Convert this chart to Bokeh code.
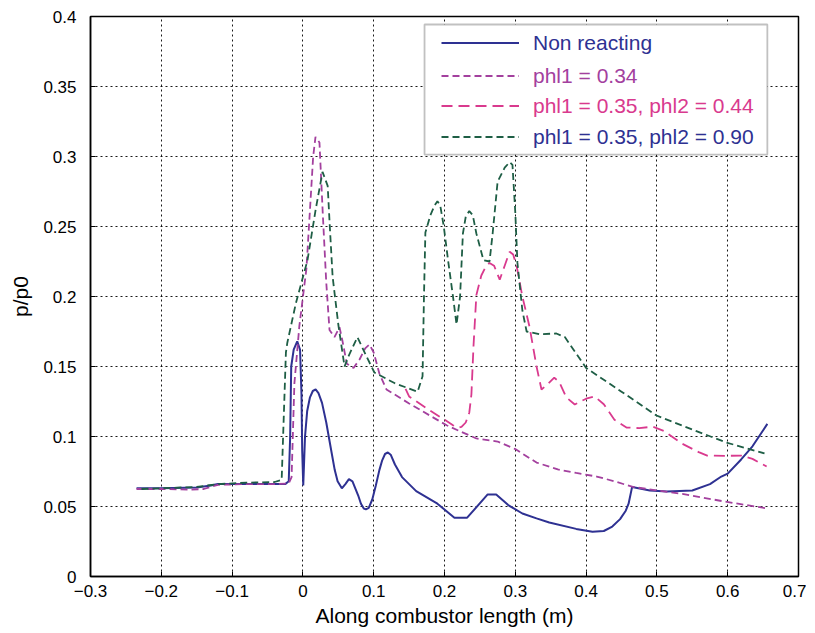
from bokeh.plotting import figure
from bokeh.models import FixedTicker, Legend, LegendItem, BoxAnnotation
from bokeh.embed import file_html
from bokeh.resources import INLINE

# ---------------- data ----------------
nr_x = [-0.235, -0.20, -0.15, -0.13, -0.12, -0.08, -0.04, -0.025, -0.02, -0.018, -0.0165, -0.013,
        -0.008, -0.004, -0.002, -0.001, 0.0005, 0.003, 0.006, 0.010, 0.014, 0.018, 0.022, 0.027,
        0.033, 0.040, 0.045, 0.049, 0.055, 0.060, 0.065, 0.070, 0.078, 0.082, 0.086, 0.089, 0.093,
        0.098, 0.103, 0.108, 0.112, 0.116, 0.120, 0.124, 0.13, 0.14, 0.16, 0.19, 0.214, 0.232,
        0.261, 0.273, 0.29, 0.31, 0.33, 0.348, 0.386, 0.409, 0.425, 0.437, 0.448, 0.456, 0.460,
        0.465, 0.49, 0.514, 0.55, 0.575, 0.591, 0.60, 0.619, 0.635, 0.656]
nr_y = [0.063, 0.063, 0.0635, 0.065, 0.066, 0.066, 0.066, 0.066, 0.068, 0.10, 0.15, 0.162,
        0.168, 0.162, 0.13, 0.09, 0.065, 0.10, 0.118, 0.128, 0.1325, 0.1336, 0.131, 0.124,
        0.110, 0.09, 0.076, 0.068, 0.063, 0.066, 0.0695, 0.068, 0.058, 0.052, 0.0485, 0.048, 0.049,
        0.055, 0.065, 0.076, 0.083, 0.0875, 0.0886, 0.087, 0.08, 0.071, 0.061, 0.052, 0.042, 0.042,
        0.0586, 0.0586, 0.051, 0.045, 0.0415, 0.0386, 0.034, 0.032, 0.0325, 0.0357, 0.041, 0.047, 0.052,
        0.064, 0.0615, 0.0607, 0.0614, 0.066, 0.0714, 0.0735, 0.0836, 0.093, 0.109]

p34_x = [-0.235, -0.20, -0.16, -0.14, -0.12, -0.08, -0.04, -0.02, -0.016, -0.012, -0.005, 0.005,
         0.0145, 0.0178, 0.0234, 0.028, 0.033, 0.0376, 0.0446, 0.0517, 0.056, 0.062, 0.0715, 0.080,
         0.088, 0.094, 0.100, 0.108, 0.118, 0.15, 0.203, 0.245, 0.275, 0.30, 0.33, 0.36, 0.386, 0.415,
         0.44, 0.466, 0.50, 0.536, 0.595, 0.656]
p34_y = [0.0625, 0.0625, 0.062, 0.0625, 0.0655, 0.066, 0.066, 0.0665, 0.071, 0.138, 0.179, 0.22,
         0.30, 0.314, 0.31, 0.26, 0.21, 0.176, 0.171, 0.178, 0.168, 0.152, 0.149, 0.155,
         0.163, 0.1657, 0.16, 0.145, 0.1336, 0.1236, 0.108, 0.0986, 0.0964, 0.091, 0.0814, 0.0765, 0.074, 0.0714,
         0.068, 0.064, 0.0615, 0.059, 0.0536, 0.0486]

p44_x = [0.145, 0.15, 0.175, 0.20, 0.212, 0.218, 0.224, 0.230, 0.235, 0.238, 0.241, 0.245, 0.252,
         0.258, 0.2636, 0.27, 0.278, 0.285, 0.292, 0.297, 0.302, 0.31, 0.32, 0.33, 0.337, 0.345,
         0.355, 0.362, 0.372, 0.384, 0.40, 0.412, 0.425, 0.44, 0.457, 0.475, 0.494, 0.51, 0.535,
         0.56, 0.571, 0.60, 0.619, 0.635, 0.655]
p44_y = [0.134, 0.1286, 0.12, 0.112, 0.108, 0.1064, 0.1068, 0.110, 0.117, 0.13, 0.165, 0.201, 0.215,
         0.221, 0.224, 0.222, 0.212, 0.222, 0.232, 0.230, 0.2214, 0.20, 0.1786, 0.15, 0.1336, 0.137,
         0.142, 0.139, 0.128, 0.1229, 0.127, 0.1286, 0.123, 0.112, 0.1064, 0.106, 0.107, 0.104, 0.095,
         0.0886, 0.0864, 0.0862, 0.0864, 0.084, 0.0786]

p90_x = [-0.228, -0.20, -0.15, -0.12, -0.08, -0.04, -0.03, -0.024, -0.022, -0.01, 0.0065, 0.018,
         0.0277, 0.035, 0.038, 0.042, 0.050, 0.0588, 0.065, 0.077, 0.090, 0.101, 0.13, 0.162, 0.169,
         0.171, 0.173, 0.18, 0.186, 0.19, 0.194, 0.199, 0.205, 0.212, 0.217, 0.222, 0.226, 0.230,
         0.235, 0.240, 0.245, 0.255, 0.2636, 0.268, 0.275, 0.285, 0.292, 0.296, 0.300, 0.303, 0.31,
         0.316, 0.334, 0.358, 0.37, 0.40, 0.45, 0.4995, 0.55, 0.598, 0.652]
p90_y = [0.0625, 0.063, 0.064, 0.066, 0.067, 0.0675, 0.069, 0.16, 0.167, 0.195, 0.226, 0.262,
         0.289, 0.279, 0.25, 0.214, 0.18, 0.15, 0.158, 0.171, 0.157, 0.1457, 0.138, 0.132, 0.143,
         0.20, 0.2457, 0.258, 0.265, 0.268, 0.265, 0.25, 0.226, 0.20, 0.18, 0.20, 0.245, 0.257,
         0.261, 0.258, 0.245, 0.226, 0.225, 0.245, 0.282, 0.292, 0.296, 0.294, 0.26, 0.224, 0.19,
         0.175, 0.173, 0.1736, 0.171, 0.149, 0.132, 0.115, 0.105, 0.0957, 0.0879]

x_ticks = [-0.3, -0.2, -0.1, 0, 0.1, 0.2, 0.3, 0.4, 0.5, 0.6, 0.7]
x_labels = ["\u22120.3", "\u22120.2", "\u22120.1", "0", "0.1", "0.2", "0.3", "0.4", "0.5", "0.6", "0.7"]
y_ticks = [0, 0.05, 0.1, 0.15, 0.2, 0.25, 0.3, 0.35, 0.4]
y_labels = ["0", "0.05", "0.1", "0.15", "0.2", "0.25", "0.3", "0.35", "0.4"]

names = ["Non reacting", "phl1 = 0.34", "phl1 = 0.35, phl2 = 0.44", "phl1 = 0.35, phl2 = 0.90"]

# ---------------- styles ----------------
BLUE = "#2e3192"
PURPLE = "#a3409e"
PINK = "#d93a8e"
GREEN = "#1e5e45"
FONT = "Liberation Sans"

p = figure(frame_width=708, frame_height=560, x_range=(-0.3, 0.7), y_range=(0, 0.4),
           output_backend="svg", toolbar_location=None,
           min_border_left=90, min_border_right=8, min_border_top=16, min_border_bottom=52)
p.background_fill_color = "white"
p.border_fill_color = "white"
p.outline_line_color = "black"
p.outline_line_width = 1.5

xt = FixedTicker(ticks=x_ticks)
yt = FixedTicker(ticks=y_ticks)
p.xaxis.ticker = xt
p.yaxis.ticker = yt
p.xgrid.ticker = xt
p.ygrid.ticker = yt
p.xaxis.major_label_overrides = dict(zip(x_ticks, x_labels))
p.yaxis.major_label_overrides = dict(zip(y_ticks, y_labels))

for ax in (p.xaxis, p.yaxis):
    ax.axis_line_color = "black"
    ax.axis_line_width = 1.5
    ax.major_tick_in = 5
    ax.major_tick_out = 0
    ax.minor_tick_line_color = None
    ax.major_tick_line_color = "black"
    ax.major_label_text_font = FONT
    ax.major_label_text_font_size = "17px"
    ax.major_label_text_color = "black"
    ax.axis_label_text_font = FONT
    ax.axis_label_text_font_size = "21px"
    ax.axis_label_text_font_style = "normal"
    ax.axis_label_text_color = "black"

p.xaxis.axis_label = "Along combustor length (m)"
p.yaxis.axis_label = "p/p0"
p.xaxis.major_label_standoff = 8
p.xaxis.axis_label_standoff = 4
p.yaxis.major_label_standoff = 14
p.yaxis.axis_label_standoff = 8

for g in (p.xgrid, p.ygrid):
    g.grid_line_color = "black"
    g.grid_line_alpha = 0.9
    g.grid_line_dash = "2 3"
    g.grid_line_width = 1

r_nr = p.line(nr_x, nr_y, line_color=BLUE, line_width=2)
r_34 = p.line(p34_x, p34_y, line_color=PURPLE, line_width=1.8, line_dash="7 4")
r_44 = p.line(p44_x, p44_y, line_color=PINK, line_width=1.8, line_dash="11 6")
r_90 = p.line(p90_x, p90_y, line_color=GREEN, line_width=1.8, line_dash="7 4")

box = BoxAnnotation(left=0.1718, right=0.656, top=0.3943, bottom=0.3014,
                    fill_color="white", fill_alpha=1.0, line_color="#333333", line_width=1.8)
p.add_layout(box)

renderers = [r_nr, r_34, r_44, r_90]
text_colors = [BLUE, PURPLE, PINK, BLUE]
row_y = [521, 488, 458, 427]
for name, rend, col, yy in zip(names, renderers, text_colors, row_y):
    lg = Legend(items=[LegendItem(label=name, renderers=[rend])],
                location=(351, yy), padding=0, spacing=0, margin=0,
                glyph_width=78, glyph_height=25, label_height=25, label_standoff=14,
                border_line_alpha=0, background_fill_alpha=0,
                label_text_font=FONT, label_text_font_size="21px",
                label_text_color=col)
    p.add_layout(lg)

open("out.html", "w").write(file_html(p, INLINE))
